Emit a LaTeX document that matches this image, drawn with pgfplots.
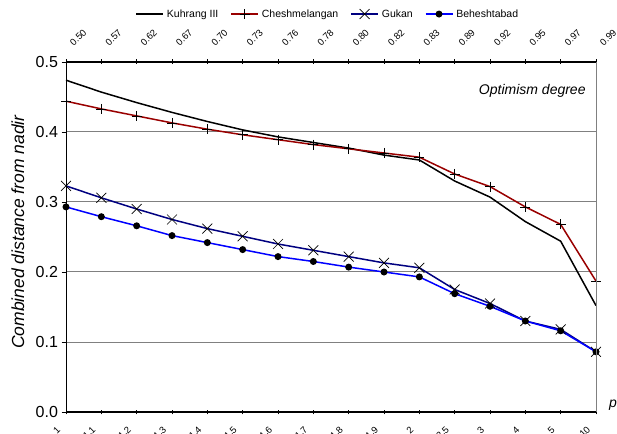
\documentclass[border=0pt]{standalone}
\usepackage{fontspec}
\setmainfont{Liberation Sans}
\usepackage{pgfplots}
\pgfplotsset{compat=1.18}
\usepackage{pgfplotstable}
\definecolor{chred}{HTML}{990000}
\definecolor{gknavy}{HTML}{000080}
\definecolor{bhblue}{HTML}{0000FF}
\definecolor{gridgray}{HTML}{808080}
\pgfplotstableread{
x K C G B
0 0.474 0.444 0.323 0.293
1 0.457 0.433 0.306 0.279
2 0.442 0.423 0.290 0.266
3 0.428 0.413 0.275 0.252
4 0.415 0.404 0.262 0.242
5 0.403 0.396 0.251 0.232
6 0.393 0.389 0.240 0.222
7 0.385 0.382 0.231 0.215
8 0.377 0.376 0.222 0.207
9 0.367 0.370 0.213 0.200
10 0.360 0.364 0.206 0.193
11 0.330 0.340 0.175 0.169
12 0.307 0.322 0.155 0.151
13 0.272 0.293 0.130 0.130
14 0.244 0.268 0.118 0.116
15 0.152 0.187 0.086 0.086
}\datatable
\begin{document}
\begin{tikzpicture}
\useasboundingbox (0pt,0pt) rectangle (617pt,433pt);
\begin{axis}[
  at={(66pt,21pt)}, anchor=south west,
  scale only axis, width=530pt, height=350pt,
  xmin=0, xmax=15, ymin=0, ymax=0.5,
  clip=false,
  axis x line*=bottom, axis y line*=left,
  axis line style={black, line width=1pt},
  x axis line style={line width=1.5pt},
  xtick={0,...,15},
  xticklabels={1,1.1,1.2,1.3,1.4,1.5,1.6,1.7,1.8,1.9,2,2.5,3,4,5,10},
  xticklabel style={xshift=-5pt, yshift=-9pt, rotate=45, anchor=east, font=\fontsize{9.5}{10}\selectfont},
  ytick={0,0.1,...,0.5},
  yticklabel style={/pgf/number format/fixed, /pgf/number format/fixed zerofill, /pgf/number format/precision=1, /pgf/number format/assume math mode=true, font=\fontsize{16}{18}\selectfont},
  tick align=outside, major tick length=4.5pt,
  tick style={black, line width=0.8pt},
  xtick style={yshift=2.25pt},
  ymajorgrids, grid style={gridgray, line width=1pt},
  ylabel={\itshape Combined distance from nadir},
  ylabel style={at={(axis description cs:-0.0906,0.514)}, anchor=center, font=\fontsize{17.5}{20}\selectfont},
  xlabel={\itshape p},
  xlabel style={at={(axis description cs:1.032,0.02)}, anchor=center, font=\fontsize{14}{16}\selectfont},
  legend columns=4,
  legend style={at={(axis description cs:0.494,1.137)}, anchor=center, draw=none, fill=none,
    font=\fontsize{10.5}{12}\selectfont, /tikz/every even column/.append style={column sep=10pt},
    /tikz/every odd column/.append style={column sep=1pt}},
  legend image code/.code={\draw[mark repeat=2,mark phase=2,#1] plot coordinates {(0pt,0pt) (13.5pt,0pt) (27pt,0pt)};},
  legend cell align=left,
]
\addplot[black, line width=1.5pt, no markers] table[x=x, y=K] {\datatable};
\addlegendentry{Kuhrang III}
\addplot[chred, line width=1.5pt, mark=+, mark size=5pt, mark options={black, line width=0.7pt}] table[x=x, y=C] {\datatable};
\addlegendentry{Cheshmelangan}
\addplot[gknavy, line width=1.5pt, mark=x, mark size=7pt, mark options={black, line width=0.7pt}] table[x=x, y=G] {\datatable};
\addlegendentry{Gukan}
\addplot[bhblue, line width=1.5pt, mark=*, mark size=2.7pt, mark options={black, fill=black}] table[x=x, y=B] {\datatable};
\addlegendentry{Beheshtabad}
\node[anchor=base east, font=\fontsize{14}{16}\selectfont\itshape] at (rel axis cs:0.987,0.906) {Optimism degree};
\end{axis}
\begin{axis}[
  at={(66pt,21pt)}, anchor=south west,
  scale only axis, width=530pt, height=350pt,
  xmin=0, xmax=15, ymin=0, ymax=0.5,
  axis x line*=top, axis y line*=right,
  x axis line style={black, line width=1.5pt},
  y axis line style={gridgray, line width=1pt},
  ytick=\empty,
  xtick={0,...,15},
  xticklabels={0.50,0.57,0.62,0.67,0.70,0.73,0.76,0.78,0.80,0.82,0.83,0.89,0.92,0.95,0.97,0.99},
  xticklabel style={xshift=8pt, yshift=8pt, rotate=45, anchor=south west, font=\fontsize{9.5}{10}\selectfont},
  tick align=center, major tick length=5pt,
  tick style={black, line width=0.8pt},
]
\end{axis}
\end{tikzpicture}
\end{document}
